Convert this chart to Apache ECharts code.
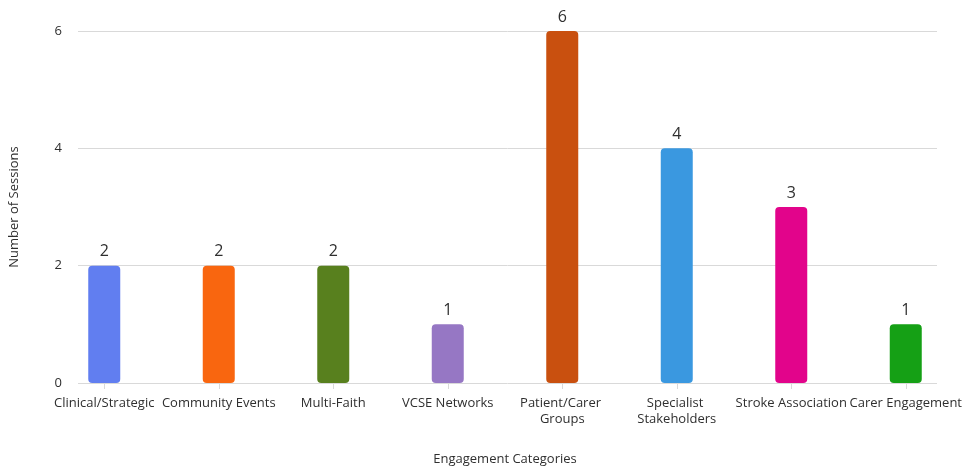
<!DOCTYPE html>
<html>
<head>
<meta charset="utf-8">
<script src="https://cdn.jsdelivr.net/npm/echarts@6/dist/echarts.min.js"></script>
<style>
  html, body { margin: 0; padding: 0; background: #fff; }
  #chart { width: 968px; height: 475px; }
</style>
</head>
<body>
<div id="chart"></div>
<script>
// Engagement sessions per category
const categories = [
  'Clinical/Strategic', 'Community Events', 'Multi-Faith', 'VCSE Networks',
  'Patient/Carer Groups', 'Specialist Stakeholders', 'Stroke Association', 'Carer Engagement'
];
const sessions = [2, 2, 2, 1, 6, 4, 3, 1];
const barColors = ['#617EF0', '#F9660F', '#58801E', '#9677C4', '#C9500F', '#3A98E0', '#E2048B', '#15A015'];
const yTicks = { min: 0, max: 6, interval: 2 };

const FONT = '"Open Sans", "Noto Sans", sans-serif';
const TEXT = '#2f2f2f';
const GRID_LINE = '#d9d9d9';

const chart = echarts.init(document.getElementById('chart'));
chart.setOption({
  animation: false,
  textStyle: { fontFamily: FONT },
  grid: [
    // value axis, gridlines
    { left: 74, right: 31, top: 31, bottom: 92 },
    // bars and category labels
    { left: 47, right: 5, top: 31, bottom: 92 }
  ],
  xAxis: [
    { gridIndex: 0, type: 'category', data: categories, show: false },
    {
      gridIndex: 1, type: 'category', data: categories,
      name: 'Engagement Categories', nameLocation: 'middle', nameGap: 70,
      nameTextStyle: { fontSize: 13, color: TEXT, fontFamily: FONT },
      axisLine: { show: false },
      axisTick: { show: true, alignWithLabel: true, length: 6, lineStyle: { color: GRID_LINE } },
      axisLabel: {
        interval: 0, margin: 12, fontSize: 13, color: TEXT, fontFamily: FONT,
        width: 118, overflow: 'break', lineHeight: 16
      }
    }
  ],
  yAxis: [
    {
      gridIndex: 0, type: 'value', min: yTicks.min, max: yTicks.max, interval: yTicks.interval,
      name: 'Number of Sessions', nameLocation: 'middle', nameGap: 57,
      nameTextStyle: { fontSize: 13, color: TEXT, fontFamily: FONT },
      axisLine: { show: false }, axisTick: { show: false },
      axisLabel: { fontSize: 13, color: TEXT, margin: 16, fontFamily: FONT },
      splitLine: { lineStyle: { color: GRID_LINE, width: 1 } }
    },
    {
      gridIndex: 1, type: 'value', min: yTicks.min, max: yTicks.max, interval: yTicks.interval,
      show: false, splitLine: { show: false }
    }
  ],
  series: [{
    type: 'bar',
    xAxisIndex: 1, yAxisIndex: 1,
    data: sessions.map((v, i) => ({ value: v, itemStyle: { color: barColors[i] } })),
    barWidth: 32,
    itemStyle: { borderRadius: 4 },
    label: {
      show: true, position: 'top', distance: 6,
      fontSize: 16, color: TEXT, fontFamily: FONT
    }
  }]
});
</script>
</body>
</html>
